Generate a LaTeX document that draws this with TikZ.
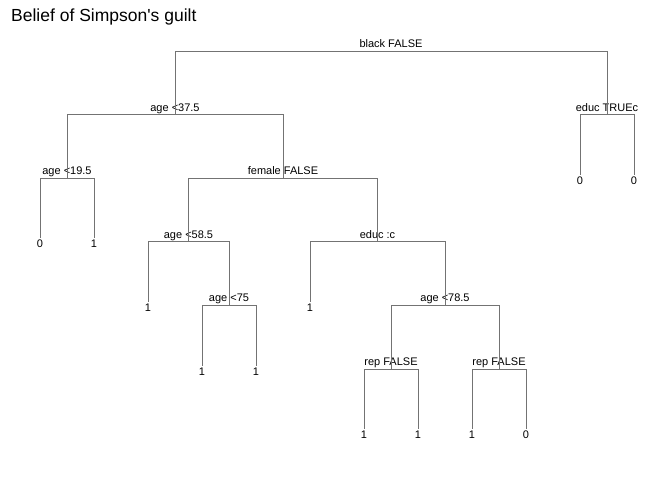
\documentclass[tikz,border=0pt]{standalone}
\usepackage{fontspec}
\setmainfont{Liberation Sans}
\newfontfamily\titlefont{Liberation Sans}

\begin{document}
\begin{tikzpicture}[x=1pt, y=-1pt,
    branch/.style={draw=black!55, line width=0.9pt},
    splitlbl/.style={anchor=base, inner sep=0pt, font=\fontsize{11}{13}\selectfont},
    leaflbl/.style={anchor=base, inner sep=0pt, font=\fontsize{11}{13}\selectfont}]

    \useasboundingbox (0,0) rectangle (672,480);

    \node[anchor=base west, inner sep=0pt, font=\titlefont\fontsize{17.5}{20}\selectfont]
      (title) at (11,21) {Belief of Simpson's guilt};

    % splits: name / x / depth
    \foreach \n/\x/\l in {black/391/0, a37/175/1, educT/607/1, a19/67/2,
                          female/283/2, a58/188.5/3, educc/377.5/3,
                          a75/229/4, a78/445/4, rep1/391/5, rep2/499/5} {
      \coordinate (\n) at (\x, 51+63.6*\l);
    }

    \foreach \n/\t in {black/black FALSE, a37/age <37.5, educT/educ TRUEc,
                       a19/age <19.5, female/female FALSE, a58/age <58.5,
                       educc/educ :c, a75/age <75, a78/age <78.5,
                       rep1/rep FALSE, rep2/rep FALSE} {
      \node[splitlbl] (\n-lbl) at ([yshift=3.5pt]\n) {\t};
    }

    % leaves: name / position / depth / value
    \foreach \n/\i/\l/\v in {l1/1/3/0, l2/2/3/1, l3/3/4/1, l4/4/5/1, l5/5/5/1,
                             l6/6/4/1, l7/7/6/1, l8/8/6/1, l9/9/6/1, l10/10/6/0,
                             l11/11/2/0, l12/12/2/0} {
      \coordinate (\n) at (54*\i-14, 51+63.6*\l-3.5);
      \node[leaflbl] (\n-lbl) at ([yshift=-9.5pt]\n) {\v};
    }

    \foreach \a/\b in {black/a37, black/educT, a37/a19, a37/female,
                       a19/l1, a19/l2, female/a58, female/educc,
                       a58/l3, a58/a75, a75/l4, a75/l5, educc/l6, educc/a78,
                       a78/rep1, a78/rep2, rep1/l7, rep1/l8, rep2/l9, rep2/l10,
                       educT/l11, educT/l12} {
      \draw[branch] (\a) -| (\b);
    }

\end{tikzpicture}
\end{document}
